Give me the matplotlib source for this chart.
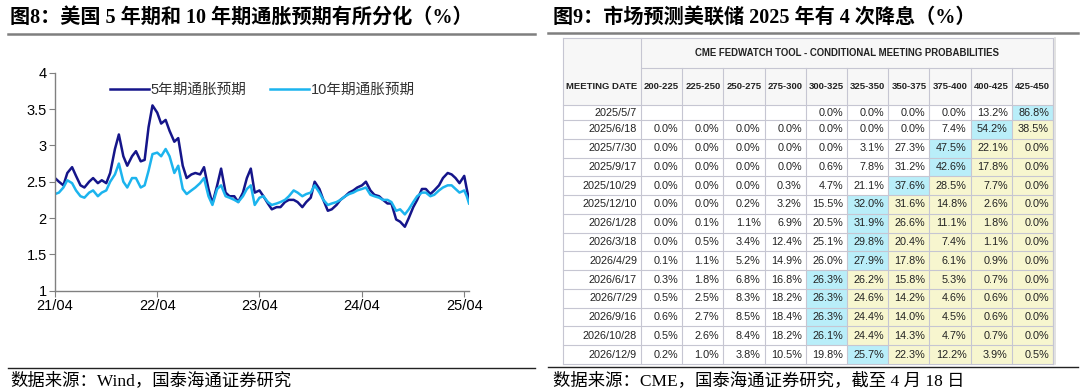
import numpy as np
import pandas as pd
import matplotlib
matplotlib.use("Agg")
import matplotlib.pyplot as plt
from matplotlib.patches import Rectangle

# ---------- data: left chart (semi-monthly readings) ----------
dates = list(pd.date_range("2021-04-01", "2025-04-01", freq="SMS")) + \
    [pd.Timestamp("2025-04-10"), pd.Timestamp("2025-04-18")]

be5 = [2.55, 2.50, 2.45, 2.62, 2.70, 2.58, 2.45, 2.42, 2.50, 2.55, 2.48, 2.52,
       2.48, 2.62, 2.95, 3.15, 2.85, 2.72,
       2.85, 2.92, 2.78, 2.80, 3.25, 3.55, 3.45, 3.30, 3.35, 3.20, 3.05, 3.10,
       2.72, 2.55, 2.60, 2.62, 2.60, 2.70, 2.40, 2.20, 2.45, 2.68, 2.35, 2.30,
       2.30, 2.22, 2.35, 2.55, 2.68, 2.35, 2.38, 2.30, 2.20, 2.12, 2.15, 2.15,
       2.22, 2.25, 2.25, 2.22, 2.15, 2.22, 2.28, 2.50, 2.40, 2.25, 2.10, 2.12,
       2.18, 2.25, 2.30, 2.35, 2.38, 2.42, 2.45, 2.50, 2.38, 2.32, 2.30, 2.25,
       2.20, 2.20, 1.98, 1.95, 1.88, 2.00, 2.15, 2.25, 2.40, 2.40, 2.33, 2.38,
       2.45, 2.55, 2.62, 2.60, 2.55, 2.48, 2.58, 2.40, 2.25]

be10 = [2.33, 2.35, 2.42, 2.52, 2.48, 2.38, 2.30, 2.28, 2.35, 2.38, 2.30, 2.35,
        2.38, 2.50, 2.60, 2.75, 2.50, 2.42,
        2.55, 2.55, 2.42, 2.45, 2.65, 2.88, 2.90, 2.85, 2.95, 2.85, 2.62, 2.72,
        2.40, 2.33, 2.38, 2.42, 2.48, 2.55, 2.30, 2.18, 2.40, 2.45, 2.30, 2.28,
        2.25, 2.22, 2.30, 2.40, 2.45, 2.18, 2.28, 2.30, 2.22, 2.18, 2.20, 2.22,
        2.25, 2.30, 2.38, 2.35, 2.30, 2.33, 2.35, 2.45, 2.35, 2.25, 2.18, 2.20,
        2.22, 2.25, 2.30, 2.33, 2.35, 2.38, 2.40, 2.42, 2.32, 2.30, 2.28, 2.25,
        2.25, 2.22, 2.10, 2.12, 2.05, 2.12, 2.22, 2.30, 2.35, 2.35, 2.30, 2.32,
        2.38, 2.42, 2.45, 2.45, 2.40, 2.35, 2.38, 2.30, 2.20]

xtick_dates = ["2021-04-01", "2022-04-01", "2023-04-01", "2024-04-01", "2025-04-01"]
xtick_labels = ["21/04", "22/04", "23/04", "24/04", "25/04"]
yticks = [1, 1.5, 2, 2.5, 3, 3.5, 4]

# ---------- data: right table ----------
rate_cols = ["200-225", "225-250", "250-275", "275-300", "300-325",
             "325-350", "350-375", "375-400", "400-425", "425-450"]
meetings = ["2025/5/7", "2025/6/18", "2025/7/30", "2025/9/17", "2025/10/29",
            "2025/12/10", "2026/1/28", "2026/3/18", "2026/4/29", "2026/6/17",
            "2026/7/29", "2026/9/16", "2026/10/28", "2026/12/9"]
probs = [
    [None, None, None, None, 0.0, 0.0, 0.0, 0.0, 13.2, 86.8],
    [0.0, 0.0, 0.0, 0.0, 0.0, 0.0, 0.0, 7.4, 54.2, 38.5],
    [0.0, 0.0, 0.0, 0.0, 0.0, 3.1, 27.3, 47.5, 22.1, 0.0],
    [0.0, 0.0, 0.0, 0.0, 0.6, 7.8, 31.2, 42.6, 17.8, 0.0],
    [0.0, 0.0, 0.0, 0.3, 4.7, 21.1, 37.6, 28.5, 7.7, 0.0],
    [0.0, 0.0, 0.2, 3.2, 15.5, 32.0, 31.6, 14.8, 2.6, 0.0],
    [0.0, 0.1, 1.1, 6.9, 20.5, 31.9, 26.6, 11.1, 1.8, 0.0],
    [0.0, 0.5, 3.4, 12.4, 25.1, 29.8, 20.4, 7.4, 1.1, 0.0],
    [0.1, 1.1, 5.2, 14.9, 26.0, 27.9, 17.8, 6.1, 0.9, 0.0],
    [0.3, 1.8, 6.8, 16.8, 26.3, 26.2, 15.8, 5.3, 0.7, 0.0],
    [0.5, 2.5, 8.3, 18.2, 26.3, 24.6, 14.2, 4.6, 0.6, 0.0],
    [0.6, 2.7, 8.5, 18.4, 26.3, 24.4, 14.0, 4.5, 0.6, 0.0],
    [0.5, 2.6, 8.4, 18.2, 26.1, 24.4, 14.3, 4.7, 0.7, 0.0],
    [0.2, 1.0, 3.8, 10.5, 19.8, 25.7, 22.3, 12.2, 3.9, 0.5],
]

# ---------- style ----------
DARK = "#15158a"
LIGHT = "#1cb4ee"
BLUE_CELL = "#b9eef9"
YELLOW_CELL = "#f7f6cf"
GRID = "#c6c6d2"
serif_cjk = ["Liberation Serif", "Noto Sans CJK SC"]
sans_cjk = ["Liberation Sans", "Noto Sans CJK SC"]

fig = plt.figure(figsize=(10.8, 3.92), dpi=100)

# overlay axes in pixel coordinates for titles, rules and the table
ov = fig.add_axes([0, 0, 1, 1])
ov.set_xlim(0, 1080)
ov.set_ylim(392, 0)
ov.axis("off")

ov.text(10, 18, "图8：美国 5 年期和 10 年期通胀预期有所分化（%）", family=serif_cjk,
        fontweight="bold", fontsize=14.5, va="center", ha="left")
ov.text(553, 18, "图9：市场预测美联储 2025 年有 4 次降息（%）", family=serif_cjk,
        fontweight="bold", fontsize=14.5, va="center", ha="left")
ov.plot([8, 535], [34, 34], color="#7f7f7f", lw=1.8)
ov.plot([548, 1078], [33, 33], color="#7f7f7f", lw=1.8)
ov.plot([8, 535], [368, 368], color="#222222", lw=1.0)
ov.plot([548, 1078], [367, 367], color="#222222", lw=1.0)
ov.text(10, 381, "数据来源：Wind，国泰海通证券研究", family=serif_cjk,
        fontsize=12.5, va="center", ha="left")
ov.text(553, 381, "数据来源：CME，国泰海通证券研究，截至 4 月 18 日", family=serif_cjk,
        fontsize=12.5, va="center", ha="left")

# ---------- table ----------
tx0, tx1 = 562.5, 1053
c0w = 641 - tx0
cw = (tx1 - 641) / len(rate_cols)
h1_top, h1_bot, h2_bot = 37.5, 67.5, 105
first_row_h = 15
row_top0 = h2_bot + first_row_h
row_h = (364 - row_top0) / (len(meetings) - 1)

def col_x(j):
    return 641 + j * cw

# header backgrounds
ov.add_patch(Rectangle((tx0, h1_top), tx1 - tx0, h2_bot - h1_top,
                       facecolor="#f7f7f7", edgecolor="none"))
ov.text((641 + tx1) / 2, (h1_top + h1_bot) / 2,
        "CME FEDWATCH TOOL - CONDITIONAL MEETING PROBABILITIES",
        family="Liberation Sans", fontweight="bold", fontsize=6.9,
        ha="center", va="center", color="#222222")
ov.text(tx0 + c0w / 2, (h1_bot + h2_bot) / 2, "MEETING DATE",
        family="Liberation Sans", fontweight="bold", fontsize=6.8,
        ha="center", va="center", color="#222222")
for j, c in enumerate(rate_cols):
    ov.text(col_x(j) + cw / 2, (h1_bot + h2_bot) / 2, c,
            family="Liberation Sans", fontweight="bold", fontsize=6.8,
            ha="center", va="center", color="#222222")

row_edges = [h2_bot] + [row_top0 + i * row_h for i in range(len(meetings))]
for i, (m, vals) in enumerate(zip(meetings, probs)):
    top, bot = row_edges[i], row_edges[i + 1]
    yc = (top + bot) / 2
    valid = [v if v is not None else -1 for v in vals]
    jmax = int(np.argmax(valid))
    for j, v in enumerate(vals):
        if j == jmax:
            fc = BLUE_CELL
        elif j > jmax:
            fc = YELLOW_CELL
        else:
            fc = "white"
        ov.add_patch(Rectangle((col_x(j), top), cw, bot - top,
                               facecolor=fc, edgecolor="none"))
        if v is not None:
            ov.text(col_x(j) + cw - 4, yc, f"{v:.1f}%", family="Liberation Sans",
                    fontsize=7.8, ha="right", va="center", color="#222222")
    ov.text(641 - 4, yc, m, family="Liberation Sans", fontsize=7.8,
            ha="right", va="center", color="#222222")

# grid lines
for y in [h1_top, h1_bot] + row_edges:
    x_start = 641 if y == h1_bot else tx0
    ov.plot([x_start, tx1], [y, y], color=GRID, lw=0.8)
ov.plot([tx0, tx0], [h1_top, row_edges[-1]], color=GRID, lw=0.8)
ov.plot([641, 641], [h1_top, row_edges[-1]], color=GRID, lw=0.8)
for j in range(1, len(rate_cols) + 1):
    ov.plot([col_x(j), col_x(j)], [h1_bot, row_edges[-1]], color=GRID, lw=0.8)
ov.plot([tx1, tx1], [h1_top, row_edges[-1]], color=GRID, lw=0.8)
ov.plot([tx1 + 2, tx1 + 2], [h1_top, row_edges[-1]], color="#dddddd", lw=1.2)

# ---------- left chart ----------
ax = fig.add_axes([55 / 1080, 1 - 290.7 / 392, (469 - 55) / 1080, 218 / 392])
ax.plot(dates, be5, color=DARK, lw=1.8, label="5年期通胀预期")
ax.plot(dates, be10, color=LIGHT, lw=1.8, label="10年期通胀预期")
ax.set_ylim(1, 4)
ax.set_yticks(yticks)
ax.set_yticklabels([f"{v:g}" for v in yticks])
ax.set_xlim(pd.Timestamp("2021-04-01"), pd.Timestamp("2025-04-18"))
ax.set_xticks([pd.Timestamp(d) for d in xtick_dates])
ax.set_xticklabels(xtick_labels)
for s in ["top", "right"]:
    ax.spines[s].set_visible(False)
for s in ["left", "bottom"]:
    ax.spines[s].set_color("#808080")
    ax.spines[s].set_linewidth(1.0)
ax.tick_params(direction="out", length=4, color="#808080", labelsize=10.5,
               pad=2)
for lbl in ax.get_xticklabels() + ax.get_yticklabels():
    lbl.set_family("Liberation Sans")
ax.patch.set_alpha(0)
leg = ax.legend(loc="center", bbox_to_anchor=(0.5, 0.92), ncol=2, frameon=False,
                handlelength=2.7, handletextpad=0.1, columnspacing=1.6,
                prop={"family": sans_cjk, "size": 10.5})
for t in leg.get_texts():
    t.set_color("#333333")

fig.savefig("out.png", dpi=100)
